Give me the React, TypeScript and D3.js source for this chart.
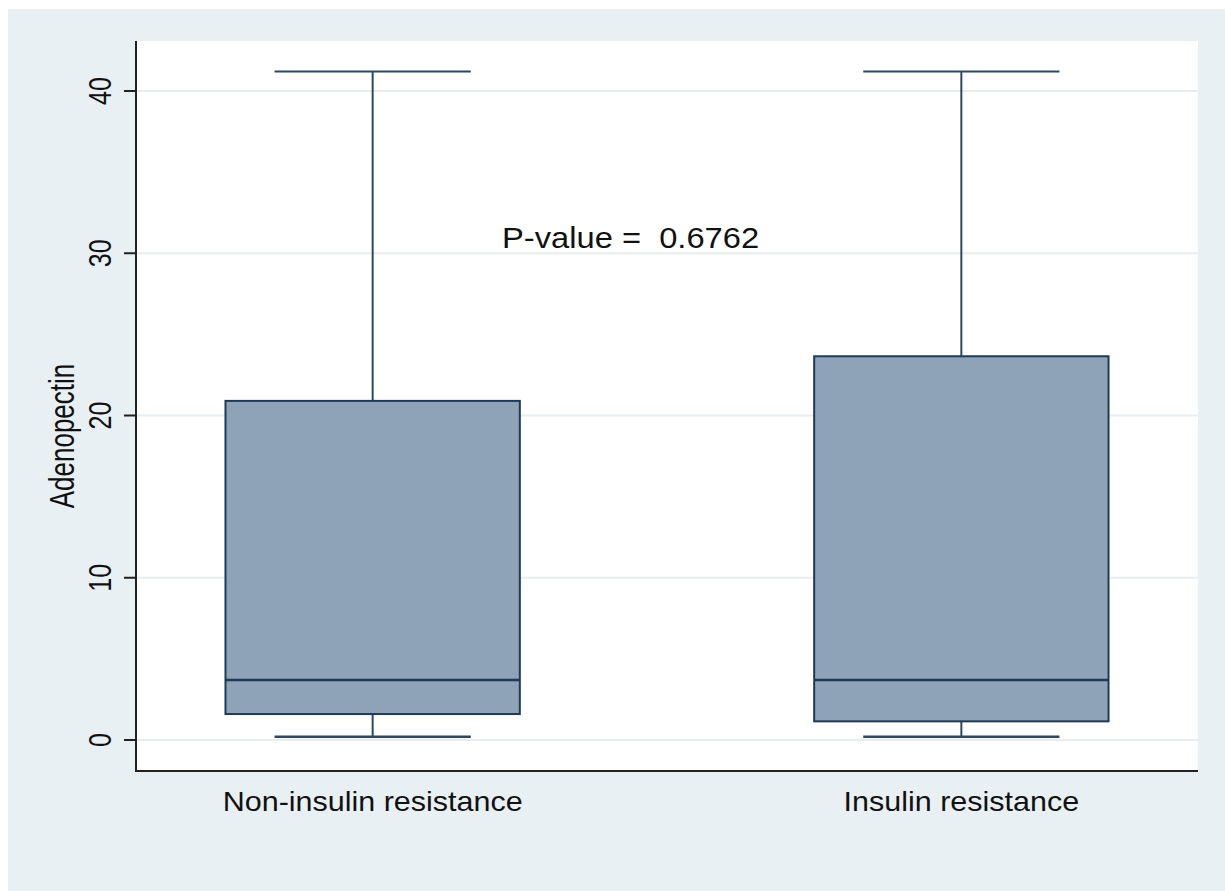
import React from "react";
import * as d3 from "d3";

const categories = ["Non-insulin resistance", "Insulin resistance"];
const lowerWhisker = [0.2, 0.2];
const q1 = [1.6, 1.15];
const median = [3.7, 3.7];
const q3 = [20.9, 23.65];
const upperWhisker = [41.2, 41.2];
const yTicks = [0, 10, 20, 30, 40];
const yTitle = "Adenopectin";
const annotation = "P-value =  0.6762";

const W = 1225;
const H = 891;
const plot = { left: 136, right: 1198, top: 41, bottom: 771 };
const FONT = "'Liberation Sans', Arial, Helvetica, sans-serif";

export default function App() {
  const y = d3.scaleLinear().domain([-1.91, 43.08]).range([plot.bottom, plot.top]);
  const x = d3
    .scaleBand<string>()
    .domain(categories)
    .range([plot.left, plot.right])
    .paddingInner(0.5)
    .paddingOuter(0.152);
  const bw = x.bandwidth();
  const fill = "#8fa3b8";
  const stroke = "#1e3a56";
  const whisk = "#2c4862";

  return (
    <svg
      width={W}
      height={H}
      style={{ position: "fixed", left: 0, top: 0, display: "block" }}
    >
      <rect x={0} y={0} width={W} height={H} fill="#ffffff" />
      <rect x={8} y={9} width={W - 8} height={H - 9} fill="#e9f0f3" />
      <rect
        x={plot.left}
        y={plot.top}
        width={plot.right - plot.left}
        height={plot.bottom - plot.top}
        fill="#ffffff"
      />
      {yTicks.map((t) => (
        <line
          key={"g" + t}
          x1={plot.left}
          x2={plot.right}
          y1={y(t)}
          y2={y(t)}
          stroke="#e8eef0"
          strokeWidth={2}
        />
      ))}
      {categories.map((c, i) => {
        const x0 = x(c)!;
        const cx = x0 + bw / 2;
        const capW = (bw * 2) / 3;
        return (
          <g key={c}>
            <line x1={cx} x2={cx} y1={y(upperWhisker[i])} y2={y(q3[i])} stroke={whisk} strokeWidth={2} />
            <line x1={cx} x2={cx} y1={y(q1[i])} y2={y(lowerWhisker[i])} stroke={whisk} strokeWidth={2} />
            <line
              x1={cx - capW / 2}
              x2={cx + capW / 2}
              y1={y(upperWhisker[i])}
              y2={y(upperWhisker[i])}
              stroke={whisk}
              strokeWidth={2}
            />
            <line
              x1={cx - capW / 2}
              x2={cx + capW / 2}
              y1={y(lowerWhisker[i])}
              y2={y(lowerWhisker[i])}
              stroke={whisk}
              strokeWidth={2.5}
            />
            <rect
              x={x0}
              y={y(q3[i])}
              width={bw}
              height={y(q1[i]) - y(q3[i])}
              fill={fill}
              stroke={stroke}
              strokeWidth={2}
            />
            <line x1={x0} x2={x0 + bw} y1={y(median[i])} y2={y(median[i])} stroke={stroke} strokeWidth={2.5} />
            <text
              transform={`translate(${cx},${plot.bottom + 40}) scale(1.07,1)`}
              textAnchor="middle"
              fontFamily={FONT}
              fontSize={28.5}
              fill="#111"
            >
              {c}
            </text>
          </g>
        );
      })}
      {/* axes */}
      <line x1={plot.left} x2={plot.left} y1={plot.top} y2={plot.bottom + 1} stroke="#222" strokeWidth={2} />
      <line x1={plot.left - 1} x2={plot.right} y1={plot.bottom} y2={plot.bottom} stroke="#222" strokeWidth={2} />
      {yTicks.map((t) => (
        <g key={"t" + t}>
          <line x1={plot.left - 12} x2={plot.left} y1={y(t)} y2={y(t)} stroke="#222" strokeWidth={2} />
          <text
            transform={`translate(${plot.left - 25},${y(t)}) scale(1.28,1) rotate(-90)`}
            textAnchor="middle"
            fontFamily={FONT}
            fontSize={25}
            fill="#111"
          >
            {d3.format("d")(t)}
          </text>
        </g>
      ))}
      <text
        transform={`translate(73.5,${(plot.top + plot.bottom) / 2 + 30}) scale(1.32,1) rotate(-90)`}
        textAnchor="middle"
        fontFamily={FONT}
        fontSize={26}
        fill="#111"
      >
        {yTitle}
      </text>
      <text
        transform={`translate(502,248) scale(1.09,1)`}
        fontFamily={FONT}
        fontSize={30}
        fill="#111"
        style={{ whiteSpace: "pre" }}
      >
        {annotation}
      </text>
    </svg>
  );
}
